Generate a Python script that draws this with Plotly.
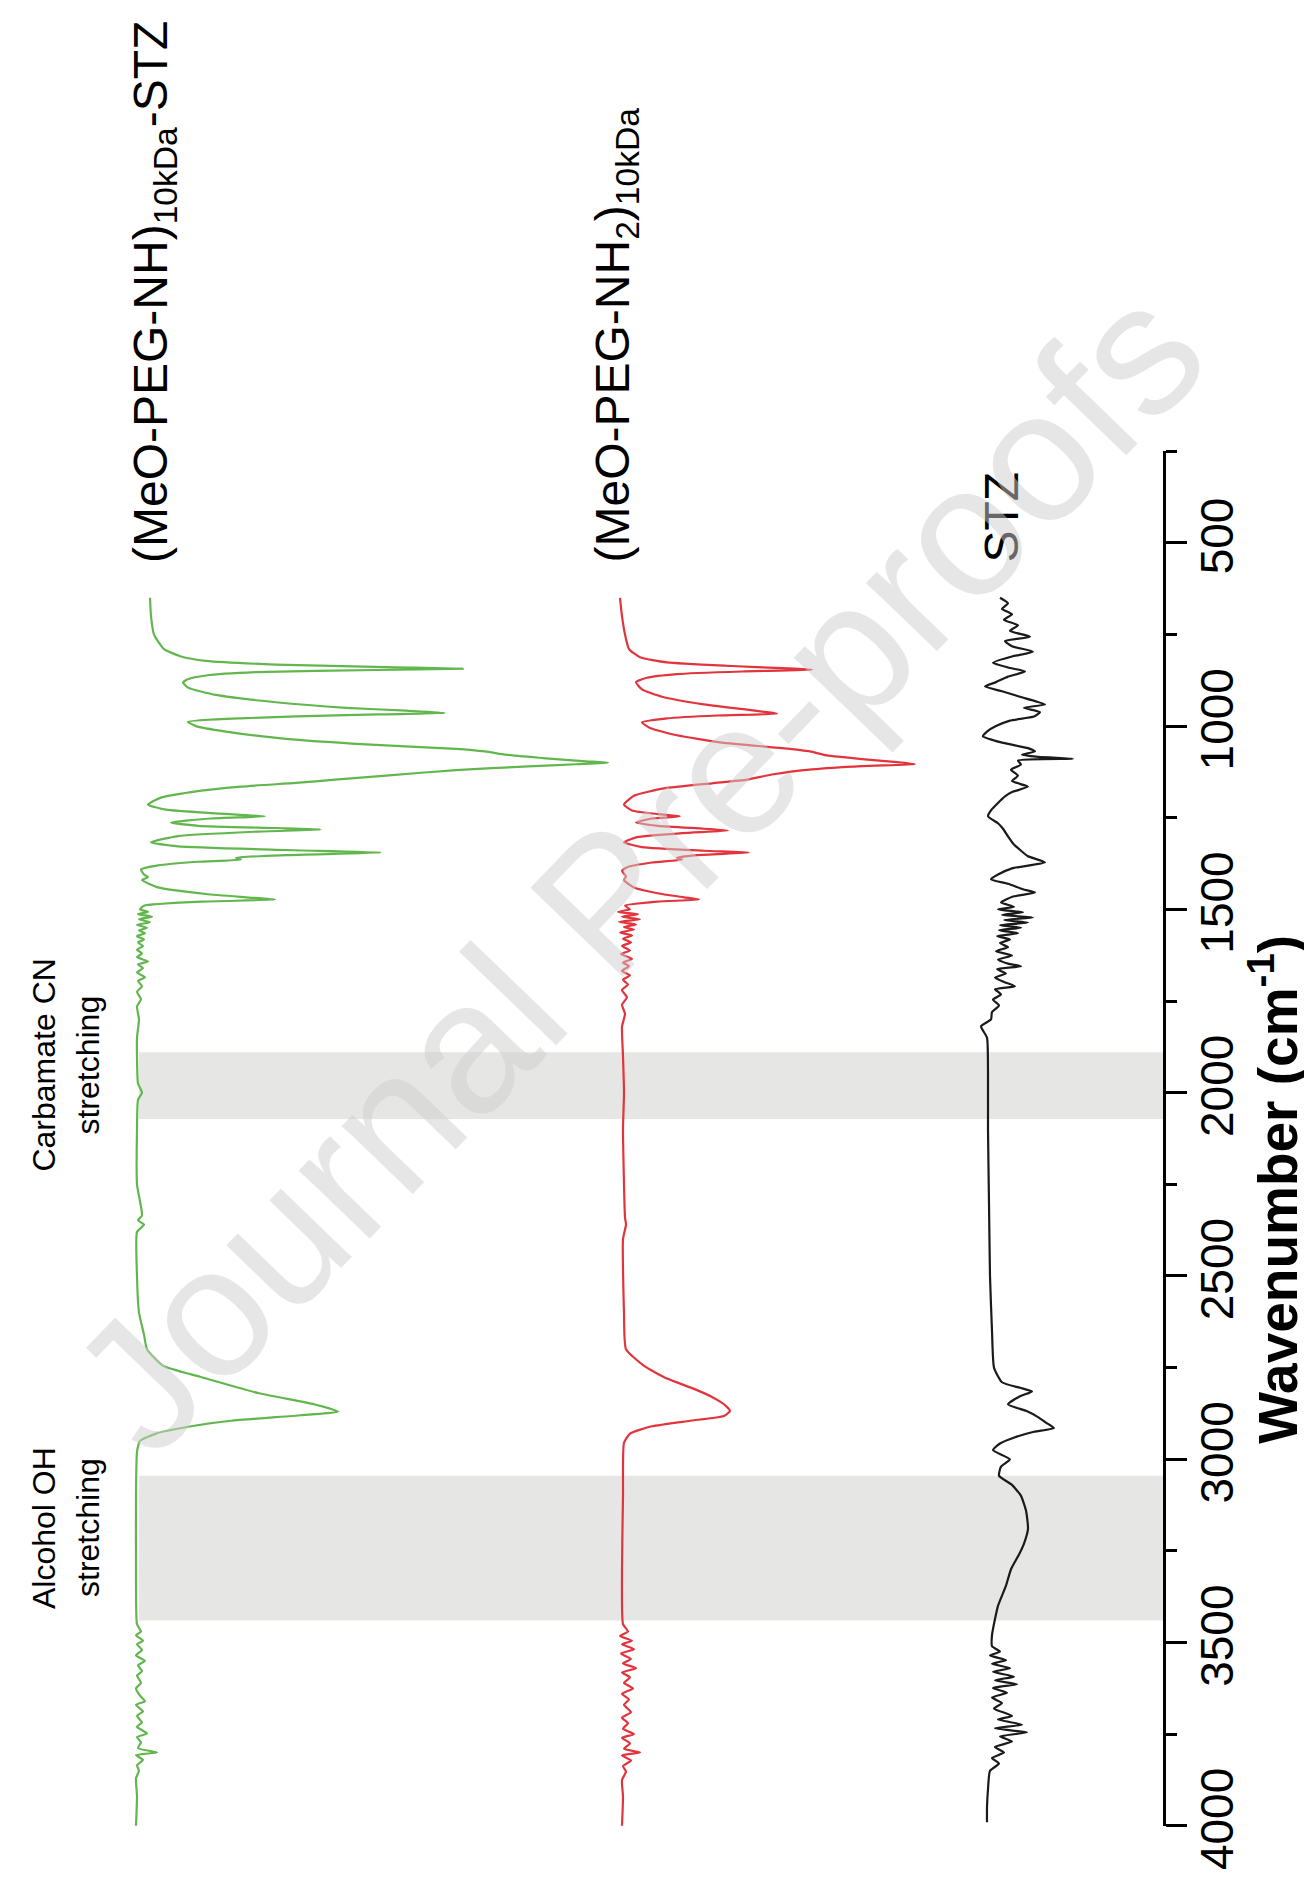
import plotly.graph_objects as go

# ---------------- data (wavenumber in cm-1, absorbance relative to each trace's own baseline, a.u.) -------------
green_wn = [650, 700, 750, 790, 810, 822, 832, 839, 843, 847, 853, 862, 872, 881,
            895, 915, 935, 950, 958, 964, 970, 978, 988,
            1000, 1015, 1035, 1050, 1062, 1069, 1078, 1088, 1096, 1100, 1104, 1110, 1120, 1135, 1146, 1155, 1165, 1180, 1195, 1214,
            1228, 1238, 1246, 1252, 1263,
            1272, 1278, 1282, 1288, 1300, 1317,
            1328, 1338, 1345, 1352, 1359, 1364, 1370, 1380, 1391,
            1405, 1412, 1420, 1440, 1458, 1467, 1473, 1479, 1490,
            1500, 1507, 1513, 1520, 1527, 1535, 1542, 1550, 1557, 1565, 1573, 1582, 1590, 1600, 1610, 1620, 1630,
            1642, 1650, 1660, 1672, 1685, 1695, 1710, 1725, 1745, 1765, 1800, 1850, 1900, 1975, 2000, 2020, 2100,
            2250, 2335, 2348, 2360, 2380, 2500, 2600, 2660, 2700, 2745, 2775, 2820, 2850, 2870, 2880, 2895, 2910,
            2930, 2950, 2980, 3100, 3300, 3450,
            3470, 3480, 3495, 3505, 3520, 3535, 3550, 3562, 3578, 3590, 3610, 3625, 3645, 3660, 3670, 3688, 3700,
            3718, 3730, 3748, 3758, 3772, 3788, 3800, 3807, 3820, 3835, 3850, 3870, 3920, 4000]
green_val = [14, 15, 18, 28, 45, 70, 140, 250, 327, 240, 120, 70, 52, 47,
             52, 80, 140, 210, 270, 309, 210, 110, 52,
             60, 90, 150, 230, 320, 349, 370, 410, 450, 472, 440, 392, 320, 250, 199, 160, 105, 55, 25, 12,
             30, 80, 129, 75, 35,
             62, 140, 185, 120, 42, 15,
             42, 150, 245, 150, 100, 105, 62, 22, 5,
             8, 12, 6, 22, 70, 110, 139, 65, 8,
             4, 12, 2, 16, 3, 14, 1, 11, 3, 9, 1, 8, 2, 7, 1, 6, 1,
             12, 2, 7, 1, 9, 2, 6, 1, 5, 1, 3, 1, 1, 2, 6, 2, 1,
             1, 6, 2, 8, 1, 1, 3, 8, 11, 27, 64, 123, 178, 202, 165, 95, 55,
             20, 4, 1, 0, 0, 1,
             5, 0, 7, 1, 6, 0, 9, 2, 6, 1, 5, 0, 4, 9, 0, 7, 1,
             6, 1, 11, 1, 5, 2, 21, 0, 7, 1, 3, 0, 1, 0]

red_wn = [650, 700, 750, 790, 812, 826, 836, 842, 846, 851, 858, 868, 880,
          900, 920, 940, 955, 962, 966, 971, 979, 990,
          1005, 1025, 1045, 1060, 1069, 1080, 1090, 1098, 1104, 1109, 1118, 1132, 1146, 1156, 1170, 1190, 1214,
          1230, 1240, 1246, 1252, 1263,
          1272, 1280, 1285, 1292, 1303, 1317,
          1330, 1340, 1345, 1352, 1359, 1364, 1372, 1385, 1395,
          1410, 1420, 1440, 1458, 1467, 1473, 1479, 1490,
          1500, 1507, 1513, 1520, 1527, 1534, 1541, 1548, 1555, 1563, 1571, 1580, 1590, 1600, 1612, 1622,
          1635, 1645, 1655, 1668, 1680, 1692, 1705, 1720, 1740, 1760, 1785, 1820, 1900, 2000, 2100, 2340,
          2360, 2400, 2600, 2700, 2745, 2780, 2808, 2830, 2850, 2868, 2882, 2895, 2910, 2930, 2955, 3100,
          3300, 3450,
          3470, 3482, 3495, 3505, 3518, 3530, 3545, 3557, 3570, 3582, 3595, 3610, 3625, 3640, 3655, 3670,
          3690, 3705, 3720, 3735, 3750, 3760, 3775, 3790, 3800, 3808, 3822, 3837, 3852, 3875, 3920, 4000]
red_val = [-2, 0, 3, 7, 18, 45, 110, 160, 190, 120, 55, 25, 14,
           20, 40, 80, 125, 145, 155, 95, 45, 20,
           28, 55, 100, 160, 188, 205, 240, 275, 293, 240, 190, 150, 125, 90, 42, 12, 2,
           10, 36, 58, 30, 14,
           36, 82, 106, 60, 15, 2,
           20, 82, 127, 75, 55, 60, 30, 5, 0,
           4, 2, 12, 40, 62, 77, 35, 3,
           8, -4, 16, 0, 18, -3, 14, 2, 12, -2, 10, 1, 9, 0, 8, -1,
           10, 1, 7, 0, 8, 1, 6, 0, 5, 0, 3, 0, 1, 2, 1, 3,
           4, 1, 2, 4, 22, 45, 72, 90, 102, 108, 102, 68, 30, 8, 2, 1,
           0, 1,
           6, -2, 10, 0, 12, -1, 9, 1, 14, 0, 8, 2, 11, 0, 7, 2,
           9, 0, 6, 1, 12, 0, 8, 2, 18, 0, 9, 1, 4, 0, 1, 0]

stz_wn = [650, 665, 680, 695, 710, 725, 740, 756, 768, 782, 797, 810, 827, 840, 851, 865, 880, 892,
          905, 920, 941, 950, 962, 974, 985, 1000, 1015, 1028, 1045, 1060, 1069, 1078, 1084, 1089, 1094,
          1105, 1119, 1135, 1150, 1165, 1180, 1192, 1210, 1230, 1246, 1265, 1280, 1301, 1320, 1340, 1355,
          1372, 1388, 1405, 1418, 1430, 1445, 1454, 1465, 1481, 1493, 1500, 1508, 1515, 1522, 1529, 1536,
          1543, 1550, 1557, 1565, 1573, 1582, 1592, 1603, 1614, 1626, 1637, 1648, 1655, 1663, 1675, 1686,
          1698, 1710, 1718, 1732, 1746, 1762, 1780, 1800, 1819, 1850, 1950, 2100, 2300, 2500, 2650, 2750,
          2790, 2805, 2815, 2828, 2850, 2868, 2885, 2900, 2915, 2925, 2940, 2957, 2975, 3000, 3020, 3045,
          3070, 3100, 3140, 3190, 3230, 3260, 3300, 3345, 3400, 3436, 3480, 3510, 3525, 3535, 3548, 3558,
          3570, 3580, 3593, 3603, 3614, 3624, 3637, 3650, 3665, 3680, 3700, 3710, 3724, 3734, 3745, 3756,
          3770, 3785, 3800, 3815, 3830, 3850, 3900, 3950, 3990]
stz_val = [10, 18, 12, 22, 14, 28, 20, 40, 15, 22, 43, 22, 3, 18, 35, 18, 6, -5,
           12, 30, 55, 34, 50, 44, 20, 6, -3, -7, 12, 38, 45, 32, 48, 83, 28,
           31, 21, 28, 22, 38, 22, 15, 8, 1, -2, 8, 13, 18, 23, 31, 38,
           55, 22, 8, 1, 18, 33, 45, 23, 11, 24, 8, 33, 12, 43, 14, 38,
           10, 31, 9, 28, 7, 20, 10, 18, 6, 22, 8, 18, 31, 7, 16, 5,
           14, 25, 5, 11, 3, 9, 2, 1, -9, -3, -2, -2, -1, 0, 2, 4,
           12, 30, 42, 30, 18, 36, 48, 56, 64, 44, 25, 10, 3, 20, 11, 9,
           22, 31, 36, 38, 34, 29, 21, 16, 8, 5, 2, 2, 10, 0, 16, 2,
           20, 3, 24, 5, 27, 3, 17, 2, 12, 4, 22, 8, 32, 5, 37, 10,
           22, 5, 14, 2, 9, 0, -2, -3, -3]

series_names = ["(MeO-PEG-NH)<sub>10kDa</sub>-STZ", "(MeO-PEG-NH<sub>2</sub>)<sub>10kDa</sub>", "STZ"]
band_ranges = [[1890, 2072], [3045, 3440]]
band_labels = [["Carbamate CN", "stretching"], ["Alcohol OH", "stretching"]]
tick_values = [500, 1000, 1500, 2000, 2500, 3000, 3500, 4000]
tick_labels = ["500", "1000", "1500", "2000", "2500", "3000", "3500", "4000"]
minor_tick_values = [250, 750, 1250, 1750, 2250, 2750, 3250, 3750]

# ---------------- styling / layout constants ----------------
FONT = "Liberation Sans, Arial, Helvetica, sans-serif"
W, H = 1312, 1879
PLOT_LEFT, PLOT_RIGHT, PLOT_TOP, PLOT_BOTTOM = 0, 1155, 443, 1818
offsets = [128, 614, 982]          # horizontal stacking offsets of the three spectra
colors = ["#62b64e", "#e2343c", "#1a1a1a"]


def px_to_paper_y(py):
    return (PLOT_BOTTOM - py) / (PLOT_BOTTOM - PLOT_TOP)


def px_to_paper_x(px):
    return (px - PLOT_LEFT) / (PLOT_RIGHT - PLOT_LEFT)


fig = go.Figure()

for wn, val, off, col in [(green_wn, green_val, offsets[0], colors[0]),
                          (red_wn, red_val, offsets[1], colors[1]),
                          (stz_wn, stz_val, offsets[2], colors[2])]:
    fig.add_trace(go.Scatter(
        x=[off + v for v in val], y=wn, mode="lines",
        line=dict(color=col, width=2.2, shape="spline", smoothing=0.5),
        hoverinfo="skip"))

# shaded bands
for (lo, hi) in band_ranges:
    fig.add_shape(type="rect", xref="paper", yref="y", x0=px_to_paper_x(131), x1=1, y0=lo, y1=hi,
                  fillcolor="#e6e6e4", line=dict(width=0), layer="below")

annotations = []
# series labels (rotated, bottom aligned)
label_x = [146, 607, 993]
for name, lx in zip(series_names, label_x):
    annotations.append(dict(text=name, x=px_to_paper_x(lx), xref="paper", y=px_to_paper_y(557), yref="paper",
                            xanchor="center", yanchor="bottom", textangle=-90, showarrow=False,
                            font=dict(family=FONT, size=48, color="black")))
# band labels
for (lo, hi), (l1, l2) in zip(band_ranges, band_labels):
    c = (lo + hi) / 2 - 55
    annotations.append(dict(text=l1, x=px_to_paper_x(36), xref="paper", y=c, yref="y",
                            xanchor="center", yanchor="middle", textangle=-90, showarrow=False,
                            font=dict(family=FONT, size=32, color="black")))
    annotations.append(dict(text=l2, x=px_to_paper_x(80), xref="paper", y=c, yref="y",
                            xanchor="center", yanchor="middle", textangle=-90, showarrow=False,
                            font=dict(family=FONT, size=32, color="black")))
# axis title
annotations.append(dict(text="<b>Wavenumber (cm<sup>-1</sup>)</b>", x=px_to_paper_x(1266), xref="paper",
                        y=2265, yref="y", xanchor="center", yanchor="middle", textangle=-90, showarrow=False,
                        font=dict(family=FONT, size=55, color="black")))
# journal watermark
annotations.append(dict(text="Journal Pre-proofs", x=px_to_paper_x(629), xref="paper",
                        y=px_to_paper_y(860), yref="paper",
                        xanchor="center", yanchor="middle", textangle=-46, showarrow=False,
                        font=dict(family=FONT, size=186, color="rgba(205,205,205,0.5)")))

fig.update_layout(
    width=W, height=H,
    margin=dict(l=PLOT_LEFT, r=W - PLOT_RIGHT, t=PLOT_TOP, b=H - PLOT_BOTTOM),
    plot_bgcolor="white", paper_bgcolor="white",
    showlegend=False,
    font=dict(family=FONT, color="black"),
    annotations=annotations,
    xaxis=dict(range=[0, PLOT_RIGHT - PLOT_LEFT], visible=False, fixedrange=True),
    yaxis=dict(range=[4000.5, 249.5], side="right", showline=True, linecolor="black", linewidth=3,
               ticks="outside", ticklen=21, tickwidth=3, tickcolor="black",
               tickmode="array", tickvals=tick_values, ticktext=tick_labels,
               tickangle=-90, tickfont=dict(family=FONT, size=46, color="black"),
               ticklabelstandoff=-9,
               showgrid=False, zeroline=False,
               minor=dict(tickmode="array", tickvals=minor_tick_values, ticks="outside",
                          ticklen=11, tickwidth=3, tickcolor="black", showgrid=False)),
)

fig.write_html("out.html")
